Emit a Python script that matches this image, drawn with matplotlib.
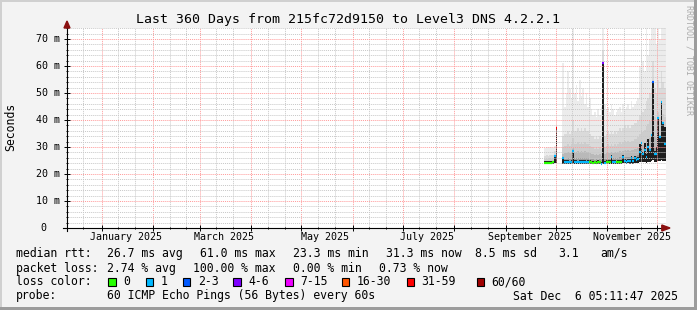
import numpy as np
import pandas as pd
import matplotlib
matplotlib.use('Agg')
import matplotlib.pyplot as plt
import matplotlib.dates as mdates
import matplotlib.transforms as mtransforms
from matplotlib.patches import Rectangle, Polygon
from datetime import datetime

plt.rcParams['font.family'] = ['DejaVu Sans Mono', 'DejaVu Sans']

W, H = 697, 310
start = datetime(2024, 12, 11, 5, 11, 47)
end = datetime(2025, 12, 6, 5, 11, 47)

# one value per day, 2025-09-24 .. 2025-12-05 (no data 10-02 .. 10-04)
days = pd.date_range('2025-09-24', '2025-12-05', freq='D')
nan = np.nan

rtt_median = [24.2, 24.1, 24.2, 24.1, 24.2, 24.3, 26.7, 37.0,
              nan, nan, nan,
              25.8, 24.6, 24.4, 24.5, 24.3, 24.5, 28.6, 24.6, 24.5, 24.3,
              24.5, 24.6, 24.4, 24.5, 24.3, 24.6, 24.4, 24.3, 24.2, 24.3,
              24.2, 24.4, 24.3, 23.6, 61.0, 24.2, 24.6, 24.5, 24.4, 26.4,
              24.6, 24.4, 24.3, 24.4, 24.5, 24.6, 26.4, 24.8, 24.6, 25.0,
              24.8, 25.8, 24.9, 26.0, 25.2, 25.6, 28.0, 31.4, 27.6, 29.0,
              26.4, 30.1, 29.0, 34.4, 54.0, 27.6, 27.6, 40.6, 33.8, 46.8,
              38.8, 31.3]

loss_index = [0, 0, 0, 0, 0, 0, 1, 6,
              0, 0, 0,
              1, 1, 1, 1, 1, 1, 1, 1, 1, 1,
              1, 1, 1, 1, 1, 1, 0, 0, 0, 0,
              0, 0, 0, 1, 3, 1, 0, 0, 0, 1,
              1, 1, 0, 0, 0, 0, 1, 1, 1, 1,
              1, 1, 1, 1, 1, 1, 1, 1, 1, 1,
              1, 1, 1, 1, 2, 1, 1, 1, 1, 1,
              1, 1]

rtt_low = [23.8, 23.8, 23.8, 23.8, 23.8, 23.8, 23.9, 24.0,
           nan, nan, nan,
           23.7, 23.7, 23.7, 23.7, 23.7, 23.7, 23.8, 23.7, 23.7, 23.7,
           23.7, 23.7, 23.7, 23.7, 23.7, 23.7, 23.7, 23.7, 23.6, 23.7,
           23.6, 23.7, 23.7, 23.3, 23.8, 23.6, 23.7, 23.7, 23.7, 23.8,
           23.8, 23.7, 23.7, 23.7, 23.8, 23.8, 23.9, 23.9, 23.8, 23.9,
           23.8, 23.9, 23.8, 24.0, 23.9, 24.0, 24.3, 24.6, 24.4, 24.5,
           24.2, 24.6, 24.5, 25.0, 25.2, 24.6, 24.5, 25.0, 24.8, 25.2,
           25.0, 24.8]

smoke_core = [24.9, 24.8, 24.9, 24.8, 24.9, 25.0, 27.2, 37.0,
              nan, nan, nan,
              26.4, 25.3, 25.1, 25.2, 25.0, 25.2, 28.6, 25.3, 25.2, 25.0,
              25.2, 25.3, 25.1, 25.2, 25.0, 25.3, 25.1, 25.0, 24.9, 25.0,
              24.9, 25.1, 25.0, 24.6, 61.0, 24.9, 25.3, 25.2, 25.1, 27.0,
              25.3, 25.1, 25.0, 25.1, 25.2, 25.3, 27.0, 25.5, 25.3, 25.7,
              25.5, 26.5, 25.6, 26.7, 26.0, 26.4, 31.0, 32.0, 28.0, 31.5,
              27.5, 33.0, 29.0, 35.0, 54.0, 28.5, 30.0, 41.0, 34.0, 47.0,
              39.0, 37.5]

smoke_mid = [26.8, 27.0, 26.7, 27.1, 26.9, 27.2, 28.5, 37.5,
             nan, nan, nan,
             34, 35, 35, 36, 35, 36, 40, 36, 36, 37,
             36, 37, 36, 37, 36, 36, 35, 34, 34, 33,
             34, 33, 34, 33, 66, 34, 35, 36, 35, 36,
             35, 36, 35, 36, 37, 36, 37, 38, 37, 38,
             37, 38, 38, 39, 39, 40, 42, 44, 43, 44,
             47, 48, 50, 52, 62, 52, 50, 55, 52, 58,
             54, 52]

rtt_max = [29.8, 30.0, 29.6, 30.1, 29.9, 29.7, 30.5, 38.0,
           nan, nan, nan,
           61, 45, 50, 58, 52, 48, 74, 50, 53, 47,
           55, 49, 52, 46, 50, 45, 48, 44, 42, 43,
           41, 44, 42, 45, 74, 46, 44, 45, 43, 46,
           44, 42, 43, 44, 45, 43, 46, 44, 45, 46,
           44, 47, 45, 46, 47, 48, 60, 66, 62, 58,
           74, 64, 70, 74, 74, 74, 68, 74, 70, 74,
           74, 74]

loss_colors = ['#26ff00', '#00b8ff', '#0059ff', '#7e00ff',
               '#ee00ff', '#ff5500', '#ff0000', '#a00000']
loss_labels = ['0', '1', '2-3', '4-6', '7-15', '16-30', '31-59', '60/60']
month_labels = ['January 2025', 'March 2025', 'May 2025',
                'July 2025', 'September 2025', 'November 2025']
y_ticks = [0, 10, 20, 30, 40, 50, 60, 70]


def fx(px):
    return px / W


def fy(py):
    return 1 - py / H


fig = plt.figure(figsize=(W / 100, H / 100), dpi=100)
fig.patch.set_facecolor('#f3f3f3')
# rrdtool style frame
fig.add_artist(Rectangle((0, 0), fx(2), 1, transform=fig.transFigure, color='#d0d0d0', lw=0))
fig.add_artist(Rectangle((0, fy(2)), 1, 2 / H, transform=fig.transFigure, color='#d0d0d0', lw=0))
fig.add_artist(Rectangle((fx(694), 0), 3 / W, 1, transform=fig.transFigure, color='#9c9c9c', lw=0))
fig.add_artist(Rectangle((0, 0), 1, 3 / H, transform=fig.transFigure, color='#9c9c9c', lw=0))

ax = fig.add_axes([fx(67), fy(228), 599 / W, 200 / H])
ax.set_facecolor('white')
for s in ax.spines.values():
    s.set_visible(False)

x = mdates.date2num(days.to_pydatetime())
med = np.array(rtt_median, dtype=float)
low = np.array(rtt_low, dtype=float)
core = np.array(smoke_core, dtype=float)
mid = np.array(smoke_mid, dtype=float)
top = np.array(rtt_max, dtype=float)
ok = ~np.isnan(med)

# smoke: outer range, graded middle, dark core
bar_kw = dict(width=1.0, align='edge', linewidth=0, antialiased=False, zorder=1)
ax.bar(x[ok], (top - low)[ok], bottom=low[ok], color='#ececec', **bar_kw)
shades = [(1.0, '#dadada'), (0.6, '#cdcdcd'), (0.35, '#b9b9b9'),
          (0.18, '#9c9c9c'), (0.08, '#727272')]
for frac, col in shades:
    ax.bar(x[ok], (frac * (mid - low))[ok], bottom=low[ok], color=col, **bar_kw)
ax.bar(x[ok], (core - low)[ok], bottom=low[ok], color='#1e1e1e', **bar_kw)

# median coloured by packet loss
ax.hlines(med[ok], x[ok], x[ok] + 1,
          colors=[loss_colors[i] for i, v in zip(loss_index, ok) if v],
          linewidth=1.6, zorder=5)

ax.set_xlim(mdates.date2num(start), mdates.date2num(end))
ax.set_ylim(0, 74.1)

month_starts = [datetime(2025, m, 1) for m in range(1, 13)]
minor_days = [datetime(2024, 12, 21)] + [datetime(2025, m, d) for m in range(1, 13)
                                         for d in (11, 21) if datetime(2025, m, d) < end]
ax.set_xticks(mdates.date2num(month_starts))
ax.set_xticks(mdates.date2num(minor_days), minor=True)
ax.set_yticks(y_ticks)
ax.set_yticks(np.arange(2, 75, 2), minor=True)
ax.set_axisbelow(False)
ax.grid(which='minor', color='#c8c8c8', linestyle=(0, (1, 1)), linewidth=0.7)
ax.grid(which='major', color='#ff9a9a', linestyle=(0, (1, 1)), linewidth=0.7)
ax.tick_params(which='both', labelbottom=False, labelleft=False, direction='inout',
               color='black', width=0.7)
ax.tick_params(which='major', length=4)
ax.tick_params(which='minor', length=2)

# axes with arrows
ax.plot([0, 0], [-3 / 200, 1.02], color='black', lw=0.8, clip_on=False, zorder=6,
        transform=ax.transAxes)
ax.plot([-4 / 599, 0.995], [0, 0], color='black', lw=0.8, clip_on=False, zorder=6,
        transform=ax.transAxes)
ax.add_patch(Polygon([(-3 / 599, 1.0), (3 / 599, 1.0), (0, 1.035)], closed=True,
                     transform=ax.transAxes, color='#8b1010', clip_on=False, zorder=7))
ax.add_patch(Polygon([(0.993, -3 / 200), (0.993, 3 / 200), (1.0067, 0)], closed=True,
                     transform=ax.transAxes, color='#8b1010', clip_on=False, zorder=7))

# tick labels
ty = mtransforms.blended_transform_factory(ax.transAxes, ax.transData)
for v in y_ticks:
    if v == 0:
        ax.text(-20.3 / 599, v, '0', transform=ty, ha='right', va='center', fontsize=7.2)
    else:
        ax.text(-7.5 / 599, v, f'{v} m', transform=ty, ha='right', va='center', fontsize=7.2)
tx = mtransforms.blended_transform_factory(ax.transData, ax.transAxes)
for m, lab in zip([1, 3, 5, 7, 9, 11], month_labels):
    ax.text(mdates.date2num(datetime(2025, m, 15, 12)), -8.7 / 200, lab,
            transform=tx, ha='center', va='center', fontsize=7.2)

fig.text(fx(347.5), fy(19.5), 'Last 360 Days from 215fc72d9150 to Level3 DNS 4.2.2.1',
         ha='center', va='center', fontsize=9.5)
fig.text(fx(10.5), fy(127), 'Seconds', rotation=90, ha='center', va='center', fontsize=8.3)
fig.text(fx(688.5), fy(5), 'RRDTOOL / TOBI OETIKER', rotation=270, ha='center', va='top',
         fontsize=6, color='#acacac')

# legend block
lg = dict(ha='left', va='center', fontsize=8.3)
rows = [
    (253.3, [(16, 'median rtt:'), (107.3, '26.7 ms avg'), (200, '61.0 ms max'),
             (293.3, '23.3 ms min'), (386, '31.3 ms now'), (475.3, '8.5 ms sd'),
             (558.3, '3.1'), (600, 'am/s')]),
    (268.3, [(16, 'packet loss:'), (107.3, '2.74 % avg'), (193.3, '100.00 % max'),
             (293.3, '0.00 % min'), (379.3, '0.73 % now')]),
    (296, [(16, 'probe:'), (107.3, '60 ICMP Echo Pings (56 Bytes) every 60s'),
           (513, 'Sat Dec  6 05:11:47 2025')]),
]
for yy, items in rows:
    for xx, s in items:
        fig.text(fx(xx), fy(yy), s, **lg)

fig.text(fx(16), fy(281.7), 'loss color:', **lg)
box_x = [108.3, 145.7, 182.7, 233.3, 285, 341.7, 406.7, 476.7]
for bx, col, lab in zip(box_x, loss_colors, loss_labels):
    fig.add_artist(Rectangle((fx(bx), fy(286)), 7.5 / W, 7.7 / H, transform=fig.transFigure,
                             facecolor=col, edgecolor='black', lw=0.8))
    fig.text(fx(bx + 15), fy(281.7), lab, **lg)

fig.savefig('out.png', dpi=100, facecolor=fig.get_facecolor())
